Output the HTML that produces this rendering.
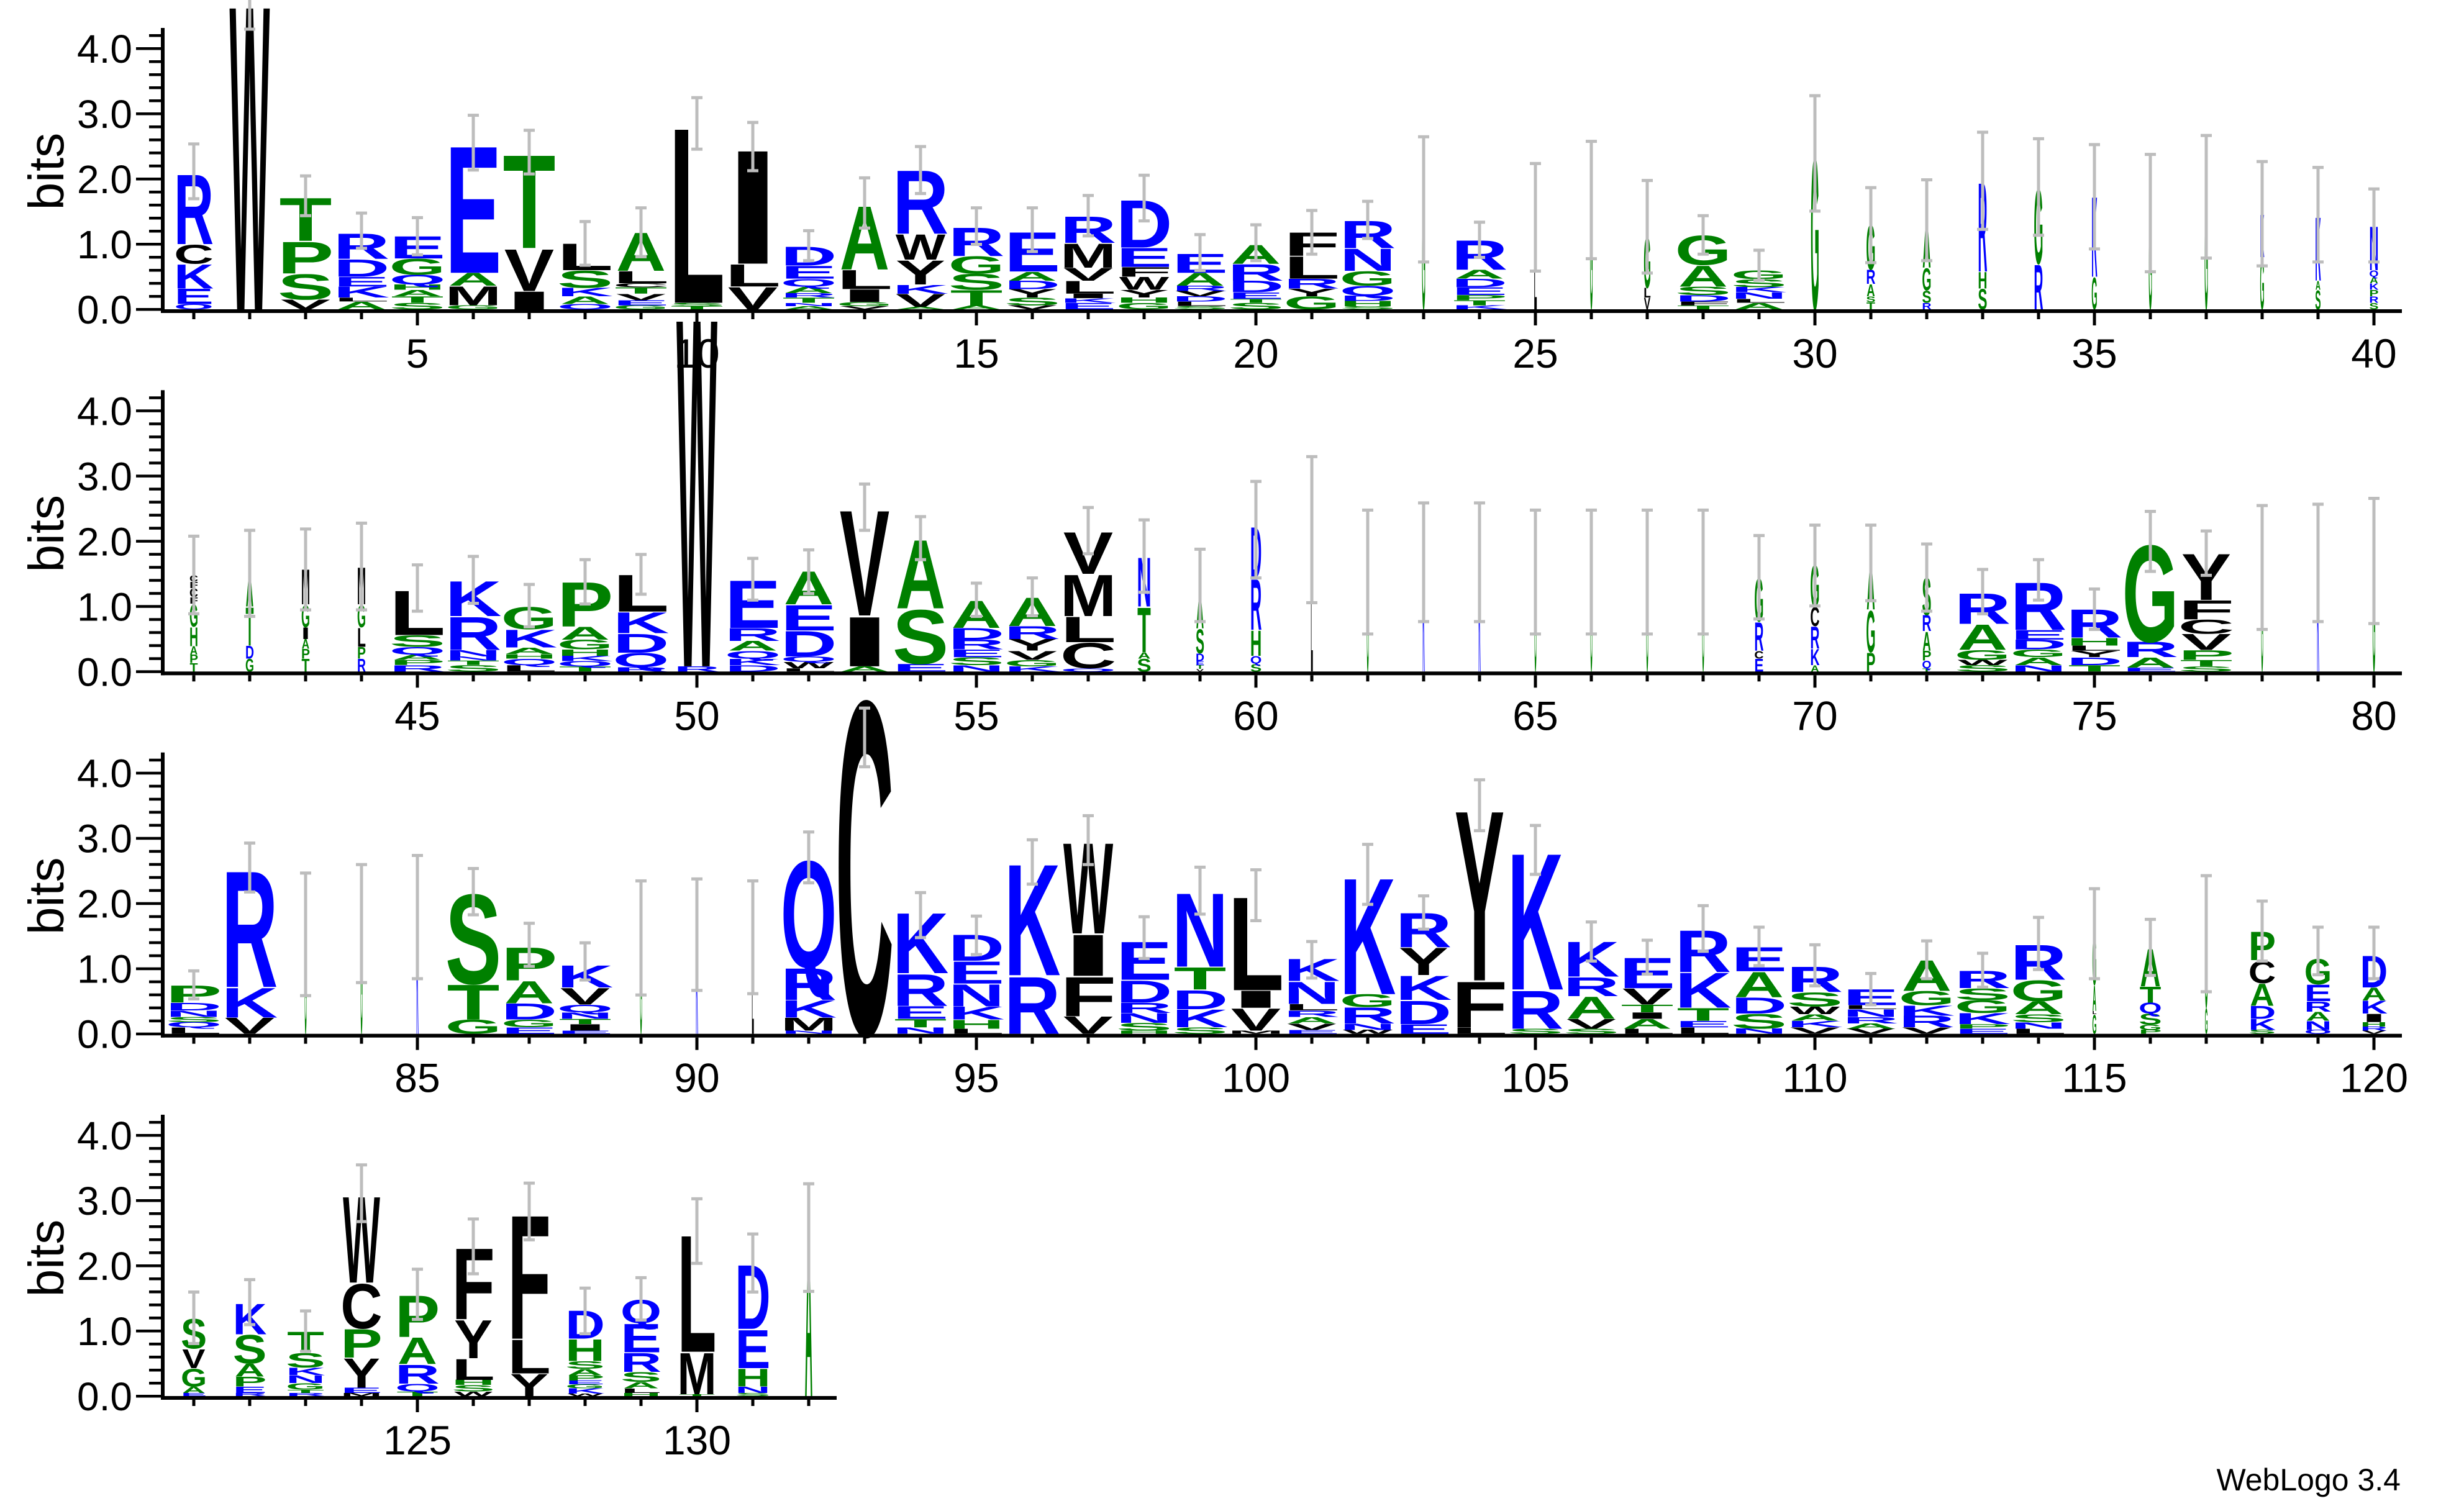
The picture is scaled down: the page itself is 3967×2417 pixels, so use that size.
<!DOCTYPE html>
<html><head><meta charset="utf-8"><style>
html,body{margin:0;padding:0;background:#fff;}
svg{display:block;}
text{font-family:"Liberation Sans",Arial,sans-serif;}
</style></head><body>
<svg id="s" xmlns="http://www.w3.org/2000/svg" width="3967" height="2417" viewBox="0 0 3967 2417"></svg>
<script>
const B=105, bases=[498,1081.3,1664.7,2248];
const D={
1:"@55 Q.08 E.24 K.38 C.3 R1.1|2.54,1.7",
2:"@63 W4.8|5.0,4.3",
3:"V.15 S.4 P.5 T.68|2.05,1.44",
4:"A.12 L.06 K.17 E.15 D.27 R.4|1.48,.94",
5:"S.1 T.1 A.1 H.08 Q.15 G.25 E.35|1.41,.84",
6:"G.06 M.3 A.2 E2.0|2.98,2.14",
7:"I.28 V.66 T1.47|2.75,2.08",
8:"Q.08 A.12 K.13 S.27 L.42|1.35,.68",
9:"G.06 E.08 V.1 T.1 C.06 L.19 A.6|1.56,.81",
10:"T.05 S.05 L2.76|3.25,2.46",
11:"V.35 L.35 I1.79|2.87,2.13",
12:"A.05 N.05 T.08 R.07 A.1 Q.12 E.2 D.3|1.21,.75",
13:"V.05 G.06 I.2 L.3 A1.0|2.02,1.25",
14:"A.04 V.2 K.14 Y.38 W.4 R1.0|2.5,1.78",
15:"A.06 T.24 S.25 G.27 R.45|1.56,1.0",
16:"V.06 S.12 Y.13 D.13 A.14 E.62|1.56,.89",
17:"E.1 K.07 I.07 L.2 V.2 M.38 R.42|1.75,1.13",
18:"G.1 H.08 Y.12 W.2 F.15 E.3 D.75|2.06,1.36",
19:"S.05 L.07 D.08 V.08 R.08 A.2 E.3|1.15,.6",
20:"S.1 T.06 E.1 D.18 R.26 A.3|1.3,.75",
21:"G.2 Y.12 R.15 L.35 F.37|1.52,.85",
22:"S.05 H.08 D.08 Q.15 G.23 N.35 R.43|1.66,1.09",
23:"@5 G1.68|2.65,.73",
24:"K.06 T.08 P.08 E.12 D.13 A.14 R.46|1.34,.8",
25:"@4 L1.2 K.2|2.24,.59",
26:"@4 G1.68|2.58,.78",
27:"@10 V.18 L.15 G.8|1.98,.56",
28:"T.06 F.06 D.1 S.13 A.33 G.46|1.44,.85",
29:"A.1 L.06 N.1 K.08 S.12 G.14|.91,.45",
30:"@12 G2.4|3.28,1.51",
31:"@13 T.11 S.09 A.19 R.22 G.7|1.87,.72",
32:"@13 R.1 S.19 G.35 A.73|1.99,.75",
33:"@13 S.32 H.26 R1.4|2.72,1.23",
34:"@13 R.7 G1.18|2.62,1.14",
35:"@8 G.5 K1.26|2.53,.93",
36:"@5 G1.47|2.38,.58",
37:"@5 G1.73|2.67,.79",
38:"@6 G.8 K.67|2.27,.67",
39:"@8 S.3 A.14 K1.0|2.18,.73",
40:"@13 S.1 R.1 P.1 K.1 A.1 Q.1 N.69|1.85,.73",
41:"@12 T.13 P.13 A.13 H.3 G.35 F.1 C.14 F.1 C.1|2.08,.89",
42:"@12 G.2 D.2 T.6 A.52|2.17,.85",
43:"@12 T.2 P.15 A.15 I.18 G.35 M.55|2.19,.95",
44:"@12 R.2 P.18 L.3 G.35 M.58|2.28,.95",
45:"R.1 P.08 A.08 Q.12 S.18 L.7|1.64,.93",
46:"S.1 T.07 N.06 N.1 R.52 K.55|1.77,1.05",
47:"L.1 Q.1 H.07 A.1 K.28 G.35|1.34,.69",
48:"T.08 Q.08 K.08 H.1 G.15 A.2 P.7|1.72,1.04",
49:"R.07 Q.22 D.3 K.33 L.58|1.8,1.19",
50:"@64 R.08 W5.5",
51:"D.1 K.1 Q.12 A.15 R.2 E.75|1.74,1.1",
52:"L.05 W.1 Q.08 D.4 E.4 A.52|1.87,1.2",
53:"A.08 I.78 V1.66|2.88,2.17",
54:"E.12 S.85 A1.08|2.38,1.72",
55:"N.1 S.12 E.12 R.15 D.18 A.43|1.36,.85",
56:"K.08 G.1 V.14 Y.18 R.2 A.45|1.44,.86",
57:"Q.05 C.4 L.4 M.65 V.66|2.52,1.81",
58:"@20 S.2 A.1 T.7 N.77|2.33,1.22",
59:"@12 V.04 T.06 E.06 D.12 S.38 A.56|1.88,.77",
60:"@16 S.12 Q.12 H.4 R.8 D.8|2.92,1.44",
61:"@3 L2.1|3.3,1.06",
62:"@3 G1.53|2.48,.58",
63:"@3 K1.68|2.59,.77",
64:"@3 K1.68|2.59,.77",
65:"@3 G1.53|2.48,.58",
66:"@3 G1.53|2.48,.58",
67:"@3 G1.53|2.48,.58",
68:"@3 G1.53|2.48,.58",
69:"@13 E.2 C.12 R.45 G.68|2.09,.81",
70:"@13 A.1 K.25 R.35 C.3 G.65|2.25,1.01",
71:"@13 P.3 G.65 A.73|2.25,1.09",
72:"@13 T.05 Q.12 P.15 A.3 R.25 S.58|1.96,.93",
73:"S.1 W.08 G.15 A.4 R.48|1.57,.89",
74:"N.1 A.12 G.12 D.15 E.15 R.75|1.72,1.1",
75:"T.1 D.12 Y.1 L.08 H.12 R.44|1.27,.65",
76:"E.06 A.16 R.24 G1.52|2.46,1.54",
77:"S.08 T.1 P.15 V.25 C.22 F.3 Y.73|2.16,1.48",
78:"@3 G1.6|2.55,.65",
79:"@3 K1.66|2.57,.77",
80:"@4 G1.69|2.66,.74",
81:"L.1 Q.08 S.08 N.1 D.12 P.27|.97,.54",
82:"V.25 K.47 R1.83|2.93,2.18",
83:"@3 G1.53|2.47,.59",
84:"@3 G1.68|2.6,.79",
85:"@3 K1.8|2.74,.85",
86:"G.22 T.55 S1.41|2.54,1.83",
87:"E.1 G.12 D.25 A.35 P.52|1.7,1.04",
88:"E.05 I.1 T.08 N.1 Q.12 V.26 K.35|1.4,.83",
89:"@3 G1.48|2.35,.6",
90:"@3 K1.53|2.38,.67",
91:"@3 L1.48|2.35,.62",
92:"N.05 M.2 K.27 R.5 Q1.68|3.1,2.32",
93:"@81 C5.25|5.0,4.1",
94:"N.1 T.13 E.2 R.5 K.95|2.17,1.48",
95:"L.08 H.14 K.2 N.35 E.35 D.41|1.81,1.22",
96:"R.9 K1.75|2.98,2.3",
97:"V.27 F.62 I.65 W1.43|3.35,2.6",
98:"H.05 S.12 N.15 R.16 D.35 E.6|1.8,1.16",
99:"S.1 K.28 D.3 T.35 N1.16|2.56,1.84",
100:"M.05 V.35 I.27 L1.47|2.52,1.74",
101:"E.06 V.1 A.1 R.1 L.1 N.35 K.35|1.42,.86",
102:"W.06 N.1 R.25 G.2 K1.83|2.91,1.99",
103:"E.15 D.37 K.38 Y.43 R.54|2.12,1.61",
104:"L.1 F.72 Y2.68|3.9,3.12",
105:"S.08 R.6 K2.15|3.2,2.45",
106:"S.08 V.15 A.35 R.3 K.55|1.72,1.12",
107:"L.08 A.15 I.1 T.12 V.25 E.48|1.44,.92",
108:"L.1 E.1 T.2 K.55 R.66|1.97,1.27",
109:"N.08 S.23 D.25 A.4 E.38|1.64,1.05",
110:"V.1 K.1 A.1 W.12 S.22 R.4|1.37,.74",
111:"V.08 A.08 R.1 N.12 L.06 E.25|.93,.45",
112:"V.1 R.18 K.16 G.22 A.48|1.43,.85",
113:"E.08 P.07 K.17 G.2 S.18 R.27|1.24,.72",
114:"L.08 N.1 S.12 A.2 G.33 R.55|1.79,.99",
115:"@6 G.3 L.05 A.4 G.78|2.23,.85",
116:"@32 P.06 G.08 S.17 Q.17 T.25 A.59|1.76,.9",
117:"@4 G.4 G1.15|2.43,.65",
118:"@38 S.06 K.17 D.2 A.35 C.35 P.45|2.04,1.12",
119:"@38 Q.06 N.14 A.14 R.16 E.26 G.4|1.64,.91",
120:"@38 V.05 R.06 H.07 I.13 K.2 A.2 D.5|1.64,.85",
121:"@36 E.05 A.1 G.28 V.3 S.47|1.6,.81",
122:"@47 R.05 E.1 P.15 A.2 S.45 K.48|1.79,1.1",
123:"@55 R.05 T.05 G.1 N.12 K.12 S.23 T.32|1.31,.69",
124:"@58 M.05 E.08 Y.46 P.45 C.7 W1.36|3.55,2.68",
125:"@62 T.07 Q.12 R.3 A.42 P.65|1.95,1.18",
126:"@60 W.07 S.1 H.08 L.33 Y.6 F1.12|2.72,1.88",
127:"@60 Y.35 L.53 F1.95|3.27,2.4",
128:"@55 W.04 K.08 G.06 E.06 P.08 A.1 S.12 H.34 D.44|1.66,.96",
129:"@57 H.05 L.07 A.1 S.15 R.3 E.45 Q.37|1.82,1.17",
130:"@54 T.03 M.65 L1.84|3.03,2.04",
131:"@49 S.05 N.1 H.28 E.6 D1.01|2.49,1.6",
132:"@12 A2.44|3.26,1.61"
};
const col=c=>"RKDENQ".includes(c)?"#0000ff":("SGHTAP".includes(c)?"#008000":"#000000");
let o='', eb='';
for(const k in D){
  const p=+k, r=Math.floor((p-1)/40), base=bases[r], x=312+((p-1)%40)*90;
  let s=D[k], w=78;
  const m=s.match(/^@(\d+)\s*/); if(m){w=+m[1]; s=s.slice(m[0].length);}
  const parts=s.split('|'); let y=base;
  for(const t of parts[0].trim().split(/\s+/)){
    const L=t[0], h=parseFloat(t.slice(1))*B;
    const ratio="AVWYX".includes(L)?0.97:(L==="T"?0.92:0.86);
    const tl=w/ratio;
    o+=`<text x="${(x-tl/2).toFixed(1)}" y="0" textLength="${tl.toFixed(1)}" lengthAdjust="spacingAndGlyphs" font-size="100" font-weight="bold" fill="${col(L)}" transform="translate(0,${y.toFixed(1)}) scale(1,${(h/71.6).toFixed(4)})">${L}</text>`;
    y-=h;
  }
  if(parts[1]){
    const [hi,lo]=parts[1].split(',').map(parseFloat);
    const y1=base-hi*B, y2=base-lo*B;
    eb+=`<rect x="${x-2.5}" y="${y1}" width="5" height="${y2-y1}" fill="#bdbdbd"/>`;
    eb+=`<rect x="${x-9}" y="${y1-2}" width="18" height="5" fill="#bdbdbd"/>`;
    eb+=`<rect x="${x-9}" y="${y2-2}" width="18" height="5" fill="#bdbdbd"/>`;
  }
}
let ax='';
for(let r=0;r<4;r++){
  const base=bases[r], n=r<3?40:12, xe=r<3?3867:1347;
  ax+=`<rect x="259" y="${base}" width="${xe-259}" height="6" fill="#000"/>`;
  ax+=`<rect x="259" y="${base-453}" width="6" height="459" fill="#000"/>`;
  for(let i=0;i<=21;i++){
    const yy=base-i*0.2*B, maj=(i%5===0);
    ax+=`<rect x="${maj?219:240}" y="${yy-2}" width="${maj?43:22}" height="4.5" fill="#000"/>`;
    if(maj && i<=20) ax+=`<text x="213" y="${yy+23}" font-size="64" text-anchor="end" fill="#000">${(i/5).toFixed(1)}</text>`;
  }
  ax+=`<text transform="translate(102,${base-222}) rotate(-90)" font-size="80" text-anchor="middle" fill="#000">bits</text>`;
  for(let j=0;j<n;j++){
    const p=r*40+j+1, x=312+j*90, maj=(p%5===0);
    ax+=`<rect x="${x-2.5}" y="${base+6}" width="5" height="${maj?20:10}" fill="#000"/>`;
    if(maj) ax+=`<text x="${x}" y="${base+94}" font-size="66" text-anchor="middle" fill="#000">${p}</text>`;
  }
}
ax+=`<text x="3865" y="2400" font-size="50" text-anchor="end" fill="#000">WebLogo 3.4</text>`;
document.getElementById('s').innerHTML='<rect width="3967" height="2417" fill="#fff"/>'+o+eb+ax;
</script>
</body></html>
